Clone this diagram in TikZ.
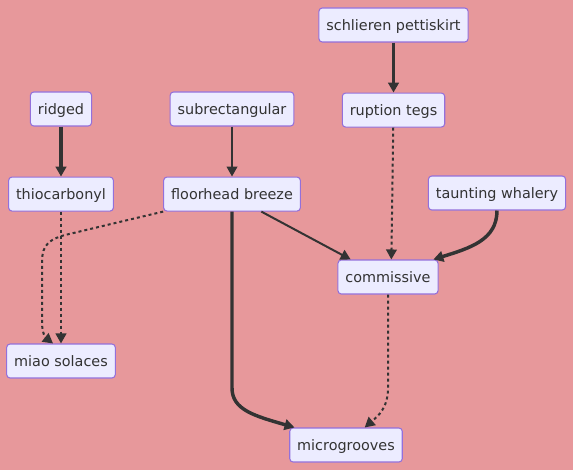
\documentclass[tikz,border=0pt]{standalone}
\usepackage{fontspec}
\setmainfont{DejaVu Sans}
\usepackage{tikz}
\usetikzlibrary{positioning, arrows.meta}
\definecolor{bgpink}{RGB}{231,152,155}
\definecolor{boxfill}{HTML}{ECECFF}
\definecolor{boxline}{HTML}{9370DB}
\definecolor{ink}{HTML}{333333}
\tikzset{
    box/.style={draw=boxline, fill=boxfill, rounded corners=2.5pt, line width=0.8pt,
        text=ink, font=\fontsize{10.8}{13}\selectfont, minimum height=25.5pt,
        inner xsep=5.6pt, text height=1.7ex, text depth=0.25ex},
    link/.style={draw=ink, line width=1.5pt, -{Triangle[length=7.5pt, width=8pt]}},
    heavy/.style={link, line width=2.6pt},
    dots/.style={link, dash pattern=on 2.25pt off 2.25pt}
}

\begin{document}
\begin{tikzpicture}[x=0.75pt, y=-0.75pt, node distance=37.5pt]
    \fill[bgpink] (0,0) rectangle (573,470);
    \useasboundingbox (0,0) rectangle (573,470);
    \node[box] (S) at (393.5,25) {schlieren pettiskirt};
    \node[box] (RT) [below=of S] {ruption tegs};
    \node[box] (R) at (61,109) {ridged};
    \node[box] (SR) at (232,109) {subrectangular};
    \node[box] (T) [below=of R] {thiocarbonyl};
    \node[box] (F) [below=of SR] {floorhead breeze};
    \node[box] (TW) at (497,193) {taunting whalery};
    \node[box] (C) at (388,277) {commissive};
    \node[box] (M) at (61,361) {miao solaces};
    \node[box] (MG) at (346,445) {microgrooves};
    \draw[heavy, line width=2pt] (S) -- (RT);
    \draw[heavy] (R) -- (T);
    \draw[link] (SR) -- (F);
    \draw[dots] (RT) -- ([xshift=2.5pt]C.north);
    \draw[link] ([xshift=22pt]F.south) -- ([xshift=-28pt]C.north);
    \draw[heavy] (TW.south) .. controls (497,240) and (470,248) .. ([xshift=34pt]C.north);
    \draw[dots] (F.south west) -- (65,235) .. controls (43,241) and (42,250) .. (42,266)
        -- (42,322) .. controls (42,334) and (46,338) .. ([xshift=-6pt]M.north);
    \draw[dots] (T) -- (M);
    \draw[heavy] (F.south) -- (232,388) .. controls (232,410) and (255,416) .. ([xshift=4pt]MG.north west);
    \draw[dots] (C.south) -- (388,388) .. controls (388,408) and (378,416) .. ([xshift=14pt]MG.north);
\end{tikzpicture}
\end{document}
